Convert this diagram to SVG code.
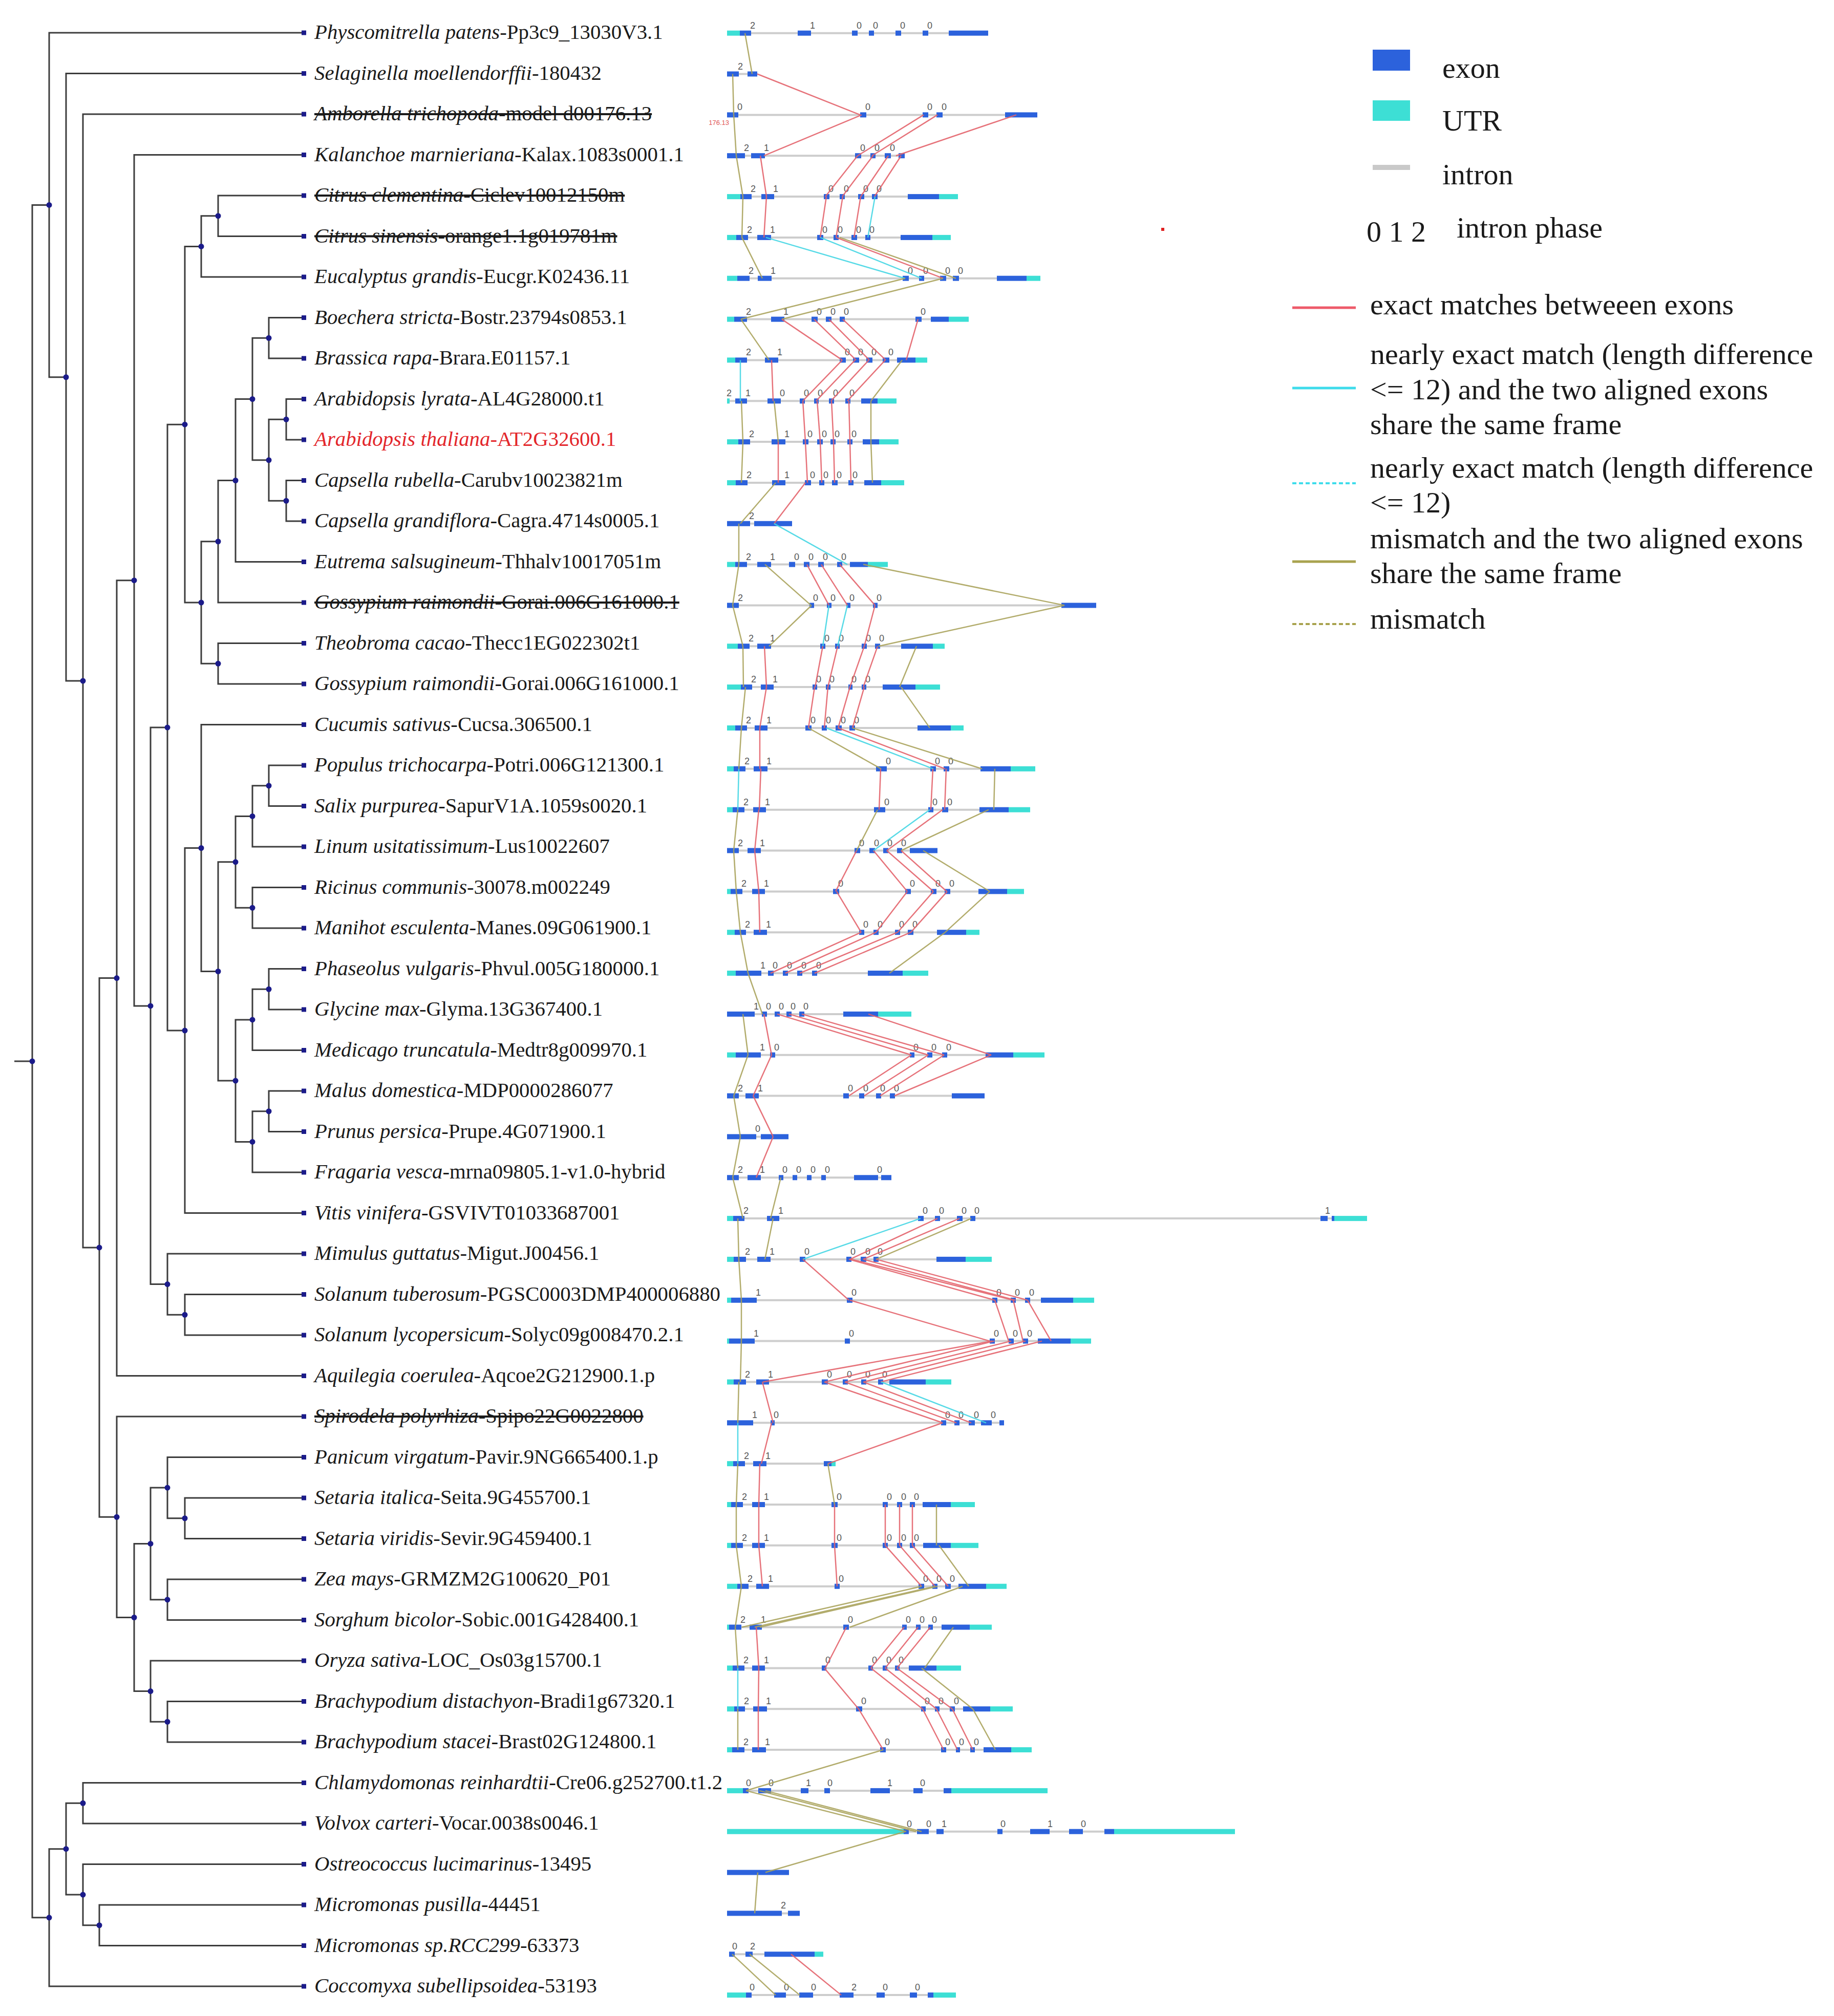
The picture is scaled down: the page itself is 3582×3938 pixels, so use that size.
<svg xmlns="http://www.w3.org/2000/svg" width="3582" height="3938" viewBox="0 0 3582 3938">
<style>
.t{font-family:"Liberation Serif","Times New Roman",serif;font-size:40.8px;fill:#1a1a1a}
.sp{font-style:italic}
.st{text-decoration:line-through}
.red{fill:#e3262b}
.br{fill:none;stroke:#3c3c3c;stroke-width:3}
.nd{fill:#1b1b8a}
.i{stroke:#cdcdcd;stroke-width:4}
.e{fill:#2c62dc}
.u{fill:#3ddfd5}
.p{font-family:"Liberation Sans",Arial,sans-serif;font-size:18px;fill:#555;text-anchor:middle}
.r{stroke:#e4636b;stroke-width:2.5}
.c{stroke:#44d6e4;stroke-width:2.5}
.o{stroke:#aaa35c;stroke-width:2.5}
.lg{font-family:"Liberation Serif","Times New Roman",serif;font-size:58px;fill:#1a1a1a}
</style>
<rect width="3582" height="3938" fill="#ffffff"/>

<g id="tree-edges">
<path class="br" d="M28 2073.1H63"/>
<path class="br" d="M96 400.4H63V3745.8H96"/>
<path class="br" d="M594 64H96V736.75H129"/>
<path class="br" d="M594 143.5H129V1330H162"/>
<path class="br" d="M594 223H162V2436.9H194"/>
<path class="br" d="M228 1910.6H194V2963.25H228"/>
<path class="br" d="M262 1133.7H228V2687.5H594"/>
<path class="br" d="M594 302.5H262V1964.9H294"/>
<path class="br" d="M327 1421.1H294V2508.6H327"/>
<path class="br" d="M361 829.2H327V2013H361"/>
<path class="br" d="M393 481.4H361V1177H393"/>
<path class="br" d="M426 421.75H393V541H594"/>
<path class="br" d="M594 382H426V461.5H594"/>
<path class="br" d="M426 1057.75H393V1296.25H426"/>
<path class="br" d="M460 938.5H426V1177H594"/>
<path class="br" d="M493 779.5H460V1097.5H594"/>
<path class="br" d="M525 660.25H493V898.75H525"/>
<path class="br" d="M594 620.5H525V700H594"/>
<path class="br" d="M559 819.25H525V978.25H559"/>
<path class="br" d="M594 779.5H559V859H594"/>
<path class="br" d="M594 938.5H559V1018H594"/>
<path class="br" d="M594 1256.5H426V1336H594"/>
<path class="br" d="M393 1656.5H361V2369.5H594"/>
<path class="br" d="M594 1415.5H393V1897.5H426"/>
<path class="br" d="M460 1683.8H426V2111.1H460"/>
<path class="br" d="M493 1594.4H460V1773.25H493"/>
<path class="br" d="M525 1534.75H493V1654H594"/>
<path class="br" d="M594 1495H525V1574.5H594"/>
<path class="br" d="M594 1733.5H493V1813H594"/>
<path class="br" d="M493 1991.9H460V2230.4H493"/>
<path class="br" d="M525 1932.25H493V2051.5H594"/>
<path class="br" d="M594 1892.5H525V1972H594"/>
<path class="br" d="M525 2170.75H493V2290H594"/>
<path class="br" d="M594 2131H525V2210.5H594"/>
<path class="br" d="M594 2449H327V2568.25H361"/>
<path class="br" d="M594 2528.5H361V2608H594"/>
<path class="br" d="M594 2767H228V3159.5H262"/>
<path class="br" d="M294 3015.4H262V3303.6H294"/>
<path class="br" d="M327 2906.1H294V3124.75H327"/>
<path class="br" d="M594 2846.5H327V2965.75H361"/>
<path class="br" d="M594 2926H361V3005.5H594"/>
<path class="br" d="M594 3085H327V3164.5H594"/>
<path class="br" d="M594 3244H294V3363.25H327"/>
<path class="br" d="M594 3323.5H327V3403H594"/>
<path class="br" d="M129 3611.7H96V3880H594"/>
<path class="br" d="M162 3522.25H129V3701.1H162"/>
<path class="br" d="M594 3482.5H162V3562H594"/>
<path class="br" d="M594 3641.5H162V3760.75H194"/>
<path class="br" d="M594 3721H194V3800.5H594"/>
</g>

<g id="tree-nodes" class="nd">
<circle cx="63" cy="2073.1" r="5.5"/><circle cx="96" cy="400.4" r="5.5"/><circle cx="129" cy="736.75" r="5.5"/><circle cx="162" cy="1330" r="5.5"/><circle cx="194" cy="2436.9" r="5.5"/><circle cx="228" cy="1910.6" r="5.5"/><circle cx="262" cy="1133.7" r="5.5"/><circle cx="294" cy="1964.9" r="5.5"/><circle cx="327" cy="1421.1" r="5.5"/><circle cx="361" cy="829.2" r="5.5"/><circle cx="393" cy="481.4" r="5.5"/><circle cx="426" cy="421.75" r="5.5"/><circle cx="393" cy="1177" r="5.5"/><circle cx="426" cy="1057.75" r="5.5"/><circle cx="460" cy="938.5" r="5.5"/><circle cx="493" cy="779.5" r="5.5"/><circle cx="525" cy="660.25" r="5.5"/><circle cx="525" cy="898.75" r="5.5"/><circle cx="559" cy="819.25" r="5.5"/><circle cx="559" cy="978.25" r="5.5"/><circle cx="426" cy="1296.25" r="5.5"/><circle cx="361" cy="2013" r="5.5"/><circle cx="393" cy="1656.5" r="5.5"/><circle cx="426" cy="1897.5" r="5.5"/><circle cx="460" cy="1683.8" r="5.5"/><circle cx="493" cy="1594.4" r="5.5"/><circle cx="525" cy="1534.75" r="5.5"/><circle cx="493" cy="1773.25" r="5.5"/><circle cx="460" cy="2111.1" r="5.5"/><circle cx="493" cy="1991.9" r="5.5"/><circle cx="525" cy="1932.25" r="5.5"/><circle cx="493" cy="2230.4" r="5.5"/><circle cx="525" cy="2170.75" r="5.5"/><circle cx="327" cy="2508.6" r="5.5"/><circle cx="361" cy="2568.25" r="5.5"/><circle cx="228" cy="2963.25" r="5.5"/><circle cx="262" cy="3159.5" r="5.5"/><circle cx="294" cy="3015.4" r="5.5"/><circle cx="327" cy="2906.1" r="5.5"/><circle cx="361" cy="2965.75" r="5.5"/><circle cx="327" cy="3124.75" r="5.5"/><circle cx="294" cy="3303.6" r="5.5"/><circle cx="327" cy="3363.25" r="5.5"/><circle cx="96" cy="3745.8" r="5.5"/><circle cx="129" cy="3611.7" r="5.5"/><circle cx="162" cy="3522.25" r="5.5"/><circle cx="162" cy="3701.1" r="5.5"/><circle cx="194" cy="3760.75" r="5.5"/>
</g>

<g id="leaves">
<g id="leaf01"><rect class="nd" x="589" y="59.5" width="9" height="9"/><text class="t" x="614" y="76"><tspan class="sp">Physcomitrella patens</tspan>-Pp3c9_13030V3.1</text></g>
<g id="leaf02"><rect class="nd" x="589" y="139" width="9" height="9"/><text class="t" x="614" y="155.5"><tspan class="sp">Selaginella moellendorffii</tspan>-180432</text></g>
<g id="leaf03"><rect class="nd" x="589" y="218.5" width="9" height="9"/><text class="t st" x="614" y="235"><tspan class="sp">Amborella trichopoda</tspan>-model d00176.13</text></g>
<g id="leaf04"><rect class="nd" x="589" y="298" width="9" height="9"/><text class="t" x="614" y="314.5"><tspan class="sp">Kalanchoe marnieriana</tspan>-Kalax.1083s0001.1</text></g>
<g id="leaf05"><rect class="nd" x="589" y="377.5" width="9" height="9"/><text class="t st" x="614" y="394"><tspan class="sp">Citrus clementina</tspan>-Ciclev10012150m</text></g>
<g id="leaf06"><rect class="nd" x="589" y="457" width="9" height="9"/><text class="t st" x="614" y="473.5"><tspan class="sp">Citrus sinensis</tspan>-orange1.1g019781m</text></g>
<g id="leaf07"><rect class="nd" x="589" y="536.5" width="9" height="9"/><text class="t" x="614" y="553"><tspan class="sp">Eucalyptus grandis</tspan>-Eucgr.K02436.11</text></g>
<g id="leaf08"><rect class="nd" x="589" y="616" width="9" height="9"/><text class="t" x="614" y="632.5"><tspan class="sp">Boechera stricta</tspan>-Bostr.23794s0853.1</text></g>
<g id="leaf09"><rect class="nd" x="589" y="695.5" width="9" height="9"/><text class="t" x="614" y="712"><tspan class="sp">Brassica rapa</tspan>-Brara.E01157.1</text></g>
<g id="leaf10"><rect class="nd" x="589" y="775" width="9" height="9"/><text class="t" x="614" y="791.5"><tspan class="sp">Arabidopsis lyrata</tspan>-AL4G28000.t1</text></g>
<g id="leaf11"><rect class="nd" x="589" y="854.5" width="9" height="9"/><text class="t red" x="614" y="871"><tspan class="sp">Arabidopsis thaliana</tspan>-AT2G32600.1</text></g>
<g id="leaf12"><rect class="nd" x="589" y="934" width="9" height="9"/><text class="t" x="614" y="950.5"><tspan class="sp">Capsella rubella</tspan>-Carubv10023821m</text></g>
<g id="leaf13"><rect class="nd" x="589" y="1013.5" width="9" height="9"/><text class="t" x="614" y="1030"><tspan class="sp">Capsella grandiflora</tspan>-Cagra.4714s0005.1</text></g>
<g id="leaf14"><rect class="nd" x="589" y="1093" width="9" height="9"/><text class="t" x="614" y="1109.5"><tspan class="sp">Eutrema salsugineum</tspan>-Thhalv10017051m</text></g>
<g id="leaf15"><rect class="nd" x="589" y="1172.5" width="9" height="9"/><text class="t st" x="614" y="1189"><tspan class="sp">Gossypium raimondii</tspan>-Gorai.006G161000.1</text></g>
<g id="leaf16"><rect class="nd" x="589" y="1252" width="9" height="9"/><text class="t" x="614" y="1268.5"><tspan class="sp">Theobroma cacao</tspan>-Thecc1EG022302t1</text></g>
<g id="leaf17"><rect class="nd" x="589" y="1331.5" width="9" height="9"/><text class="t" x="614" y="1348"><tspan class="sp">Gossypium raimondii</tspan>-Gorai.006G161000.1</text></g>
<g id="leaf18"><rect class="nd" x="589" y="1411" width="9" height="9"/><text class="t" x="614" y="1427.5"><tspan class="sp">Cucumis sativus</tspan>-Cucsa.306500.1</text></g>
<g id="leaf19"><rect class="nd" x="589" y="1490.5" width="9" height="9"/><text class="t" x="614" y="1507"><tspan class="sp">Populus trichocarpa</tspan>-Potri.006G121300.1</text></g>
<g id="leaf20"><rect class="nd" x="589" y="1570" width="9" height="9"/><text class="t" x="614" y="1586.5"><tspan class="sp">Salix purpurea</tspan>-SapurV1A.1059s0020.1</text></g>
<g id="leaf21"><rect class="nd" x="589" y="1649.5" width="9" height="9"/><text class="t" x="614" y="1666"><tspan class="sp">Linum usitatissimum</tspan>-Lus10022607</text></g>
<g id="leaf22"><rect class="nd" x="589" y="1729" width="9" height="9"/><text class="t" x="614" y="1745.5"><tspan class="sp">Ricinus communis</tspan>-30078.m002249</text></g>
<g id="leaf23"><rect class="nd" x="589" y="1808.5" width="9" height="9"/><text class="t" x="614" y="1825"><tspan class="sp">Manihot esculenta</tspan>-Manes.09G061900.1</text></g>
<g id="leaf24"><rect class="nd" x="589" y="1888" width="9" height="9"/><text class="t" x="614" y="1904.5"><tspan class="sp">Phaseolus vulgaris</tspan>-Phvul.005G180000.1</text></g>
<g id="leaf25"><rect class="nd" x="589" y="1967.5" width="9" height="9"/><text class="t" x="614" y="1984"><tspan class="sp">Glycine max</tspan>-Glyma.13G367400.1</text></g>
<g id="leaf26"><rect class="nd" x="589" y="2047" width="9" height="9"/><text class="t" x="614" y="2063.5"><tspan class="sp">Medicago truncatula</tspan>-Medtr8g009970.1</text></g>
<g id="leaf27"><rect class="nd" x="589" y="2126.5" width="9" height="9"/><text class="t" x="614" y="2143"><tspan class="sp">Malus domestica</tspan>-MDP0000286077</text></g>
<g id="leaf28"><rect class="nd" x="589" y="2206" width="9" height="9"/><text class="t" x="614" y="2222.5"><tspan class="sp">Prunus persica</tspan>-Prupe.4G071900.1</text></g>
<g id="leaf29"><rect class="nd" x="589" y="2285.5" width="9" height="9"/><text class="t" x="614" y="2302"><tspan class="sp">Fragaria vesca</tspan>-mrna09805.1-v1.0-hybrid</text></g>
<g id="leaf30"><rect class="nd" x="589" y="2365" width="9" height="9"/><text class="t" x="614" y="2381.5"><tspan class="sp">Vitis vinifera</tspan>-GSVIVT01033687001</text></g>
<g id="leaf31"><rect class="nd" x="589" y="2444.5" width="9" height="9"/><text class="t" x="614" y="2461"><tspan class="sp">Mimulus guttatus</tspan>-Migut.J00456.1</text></g>
<g id="leaf32"><rect class="nd" x="589" y="2524" width="9" height="9"/><text class="t" x="614" y="2540.5"><tspan class="sp">Solanum tuberosum</tspan>-PGSC0003DMP400006880</text></g>
<g id="leaf33"><rect class="nd" x="589" y="2603.5" width="9" height="9"/><text class="t" x="614" y="2620"><tspan class="sp">Solanum lycopersicum</tspan>-Solyc09g008470.2.1</text></g>
<g id="leaf34"><rect class="nd" x="589" y="2683" width="9" height="9"/><text class="t" x="614" y="2699.5"><tspan class="sp">Aquilegia coerulea</tspan>-Aqcoe2G212900.1.p</text></g>
<g id="leaf35"><rect class="nd" x="589" y="2762.5" width="9" height="9"/><text class="t st" x="614" y="2779"><tspan class="sp">Spirodela polyrhiza</tspan>-Spipo22G0022800</text></g>
<g id="leaf36"><rect class="nd" x="589" y="2842" width="9" height="9"/><text class="t" x="614" y="2858.5"><tspan class="sp">Panicum virgatum</tspan>-Pavir.9NG665400.1.p</text></g>
<g id="leaf37"><rect class="nd" x="589" y="2921.5" width="9" height="9"/><text class="t" x="614" y="2938"><tspan class="sp">Setaria italica</tspan>-Seita.9G455700.1</text></g>
<g id="leaf38"><rect class="nd" x="589" y="3001" width="9" height="9"/><text class="t" x="614" y="3017.5"><tspan class="sp">Setaria viridis</tspan>-Sevir.9G459400.1</text></g>
<g id="leaf39"><rect class="nd" x="589" y="3080.5" width="9" height="9"/><text class="t" x="614" y="3097"><tspan class="sp">Zea mays</tspan>-GRMZM2G100620_P01</text></g>
<g id="leaf40"><rect class="nd" x="589" y="3160" width="9" height="9"/><text class="t" x="614" y="3176.5"><tspan class="sp">Sorghum bicolor</tspan>-Sobic.001G428400.1</text></g>
<g id="leaf41"><rect class="nd" x="589" y="3239.5" width="9" height="9"/><text class="t" x="614" y="3256"><tspan class="sp">Oryza sativa</tspan>-LOC_Os03g15700.1</text></g>
<g id="leaf42"><rect class="nd" x="589" y="3319" width="9" height="9"/><text class="t" x="614" y="3335.5"><tspan class="sp">Brachypodium distachyon</tspan>-Bradi1g67320.1</text></g>
<g id="leaf43"><rect class="nd" x="589" y="3398.5" width="9" height="9"/><text class="t" x="614" y="3415"><tspan class="sp">Brachypodium stacei</tspan>-Brast02G124800.1</text></g>
<g id="leaf44"><rect class="nd" x="589" y="3478" width="9" height="9"/><text class="t" x="614" y="3494.5"><tspan class="sp">Chlamydomonas reinhardtii</tspan>-Cre06.g252700.t1.2</text></g>
<g id="leaf45"><rect class="nd" x="589" y="3557.5" width="9" height="9"/><text class="t" x="614" y="3574"><tspan class="sp">Volvox carteri</tspan>-Vocar.0038s0046.1</text></g>
<g id="leaf46"><rect class="nd" x="589" y="3637" width="9" height="9"/><text class="t" x="614" y="3653.5"><tspan class="sp">Ostreococcus lucimarinus</tspan>-13495</text></g>
<g id="leaf47"><rect class="nd" x="589" y="3716.5" width="9" height="9"/><text class="t" x="614" y="3733"><tspan class="sp">Micromonas pusilla</tspan>-44451</text></g>
<g id="leaf48"><rect class="nd" x="589" y="3796" width="9" height="9"/><text class="t" x="614" y="3812.5"><tspan class="sp">Micromonas sp.RCC299</tspan>-63373</text></g>
<g id="leaf49"><rect class="nd" x="589" y="3875.5" width="9" height="9"/><text class="t" x="614" y="3892"><tspan class="sp">Coccomyxa subellipsoidea</tspan>-53193</text></g>
</g>

<g id="genes">
<g id="gene01" transform="translate(0,64.7)"><line class="i" x1="1420" x2="1930"/><rect class="u" x="1420" y="-5" width="25" height="10"/><rect class="e" x="1445" y="-5" width="22" height="10"/><rect class="e" x="1558" y="-5" width="26" height="10"/><rect class="e" x="1664" y="-5" width="11" height="10"/><rect class="e" x="1697" y="-5" width="10" height="10"/><rect class="e" x="1749" y="-5" width="11" height="10"/><rect class="e" x="1802" y="-5" width="11" height="10"/><rect class="e" x="1853" y="-5" width="77" height="10"/><text class="p" y="-9"><tspan x="1470">2</tspan><tspan x="1587">1</tspan><tspan x="1678">0</tspan><tspan x="1710">0</tspan><tspan x="1763">0</tspan><tspan x="1816">0</tspan></text></g>
<g id="gene02" transform="translate(0,144.5)"><line class="i" x1="1420" x2="1479"/><rect class="e" x="1420" y="-5" width="23" height="10"/><rect class="e" x="1460" y="-5" width="19" height="10"/><text class="p" y="-9"><tspan x="1446">2</tspan></text></g>
<g id="gene03" transform="translate(0,224.4)"><line class="i" x1="1420" x2="2026"/><rect class="e" x="1420" y="-5" width="22" height="10"/><rect class="e" x="1680" y="-5" width="12" height="10"/><rect class="e" x="1802" y="-5" width="11" height="10"/><rect class="e" x="1829" y="-5" width="12" height="10"/><rect class="e" x="1963" y="-5" width="63" height="10"/><text class="p" y="-9"><tspan x="1445">0</tspan><tspan x="1695">0</tspan><tspan x="1816">0</tspan><tspan x="1844">0</tspan></text><text x="1424" y="20" font-family="Liberation Sans,Arial,sans-serif" font-size="13" fill="#e05555" text-anchor="end">176.13</text></g>
<g id="gene04" transform="translate(0,304.2)"><line class="i" x1="1420" x2="1767"/><rect class="e" x="1420" y="-5" width="35" height="10"/><rect class="e" x="1467" y="-5" width="27" height="10"/><rect class="e" x="1670" y="-5" width="12" height="10"/><rect class="e" x="1700" y="-5" width="10" height="10"/><rect class="e" x="1728" y="-5" width="12" height="10"/><rect class="e" x="1755" y="-5" width="12" height="10"/><text class="p" y="-9"><tspan x="1458">2</tspan><tspan x="1497">1</tspan><tspan x="1685">0</tspan><tspan x="1713">0</tspan><tspan x="1743">0</tspan></text></g>
<g id="gene05" transform="translate(0,384.1)"><line class="i" x1="1420" x2="1871"/><rect class="u" x="1420" y="-5" width="26" height="10"/><rect class="e" x="1446" y="-5" width="22" height="10"/><rect class="e" x="1487" y="-5" width="25" height="10"/><rect class="e" x="1609" y="-5" width="11" height="10"/><rect class="e" x="1640" y="-5" width="10" height="10"/><rect class="e" x="1676" y="-5" width="12" height="10"/><rect class="e" x="1703" y="-5" width="11" height="10"/><rect class="e" x="1773" y="-5" width="61" height="10"/><rect class="u" x="1834" y="-5" width="37" height="10"/><text class="p" y="-9"><tspan x="1471">2</tspan><tspan x="1515">1</tspan><tspan x="1623">0</tspan><tspan x="1653">0</tspan><tspan x="1691">0</tspan><tspan x="1717">0</tspan></text></g>
<g id="gene06" transform="translate(0,463.9)"><line class="i" x1="1420" x2="1857"/><rect class="u" x="1420" y="-5" width="18" height="10"/><rect class="e" x="1438" y="-5" width="23" height="10"/><rect class="e" x="1479" y="-5" width="27" height="10"/><rect class="e" x="1596" y="-5" width="12" height="10"/><rect class="e" x="1628" y="-5" width="10" height="10"/><rect class="e" x="1663" y="-5" width="11" height="10"/><rect class="e" x="1690" y="-5" width="10" height="10"/><rect class="e" x="1759" y="-5" width="62" height="10"/><rect class="u" x="1821" y="-5" width="36" height="10"/><text class="p" y="-9"><tspan x="1464">2</tspan><tspan x="1509">1</tspan><tspan x="1611">0</tspan><tspan x="1641">0</tspan><tspan x="1677">0</tspan><tspan x="1703">0</tspan></text></g>
<g id="gene07" transform="translate(0,543.7)"><line class="i" x1="1420" x2="2032"/><rect class="u" x="1420" y="-5" width="20" height="10"/><rect class="e" x="1440" y="-5" width="24" height="10"/><rect class="e" x="1480" y="-5" width="27" height="10"/><rect class="e" x="1763" y="-5" width="12" height="10"/><rect class="e" x="1795" y="-5" width="10" height="10"/><rect class="e" x="1836" y="-5" width="12" height="10"/><rect class="e" x="1861" y="-5" width="12" height="10"/><rect class="e" x="1947" y="-5" width="58" height="10"/><rect class="u" x="2005" y="-5" width="27" height="10"/><text class="p" y="-9"><tspan x="1467">2</tspan><tspan x="1510">1</tspan><tspan x="1778">0</tspan><tspan x="1808">0</tspan><tspan x="1851">0</tspan><tspan x="1876">0</tspan></text></g>
<g id="gene08" transform="translate(0,623.6)"><line class="i" x1="1420" x2="1892"/><rect class="u" x="1420" y="-5" width="14" height="10"/><rect class="e" x="1434" y="-5" width="25" height="10"/><rect class="e" x="1506" y="-5" width="26" height="10"/><rect class="e" x="1585" y="-5" width="12" height="10"/><rect class="e" x="1613" y="-5" width="11" height="10"/><rect class="e" x="1640" y="-5" width="10" height="10"/><rect class="e" x="1788" y="-5" width="12" height="10"/><rect class="e" x="1818" y="-5" width="35" height="10"/><rect class="u" x="1853" y="-5" width="39" height="10"/><text class="p" y="-9"><tspan x="1462">2</tspan><tspan x="1535">1</tspan><tspan x="1600">0</tspan><tspan x="1627">0</tspan><tspan x="1653">0</tspan><tspan x="1803">0</tspan></text></g>
<g id="gene09" transform="translate(0,703.4)"><line class="i" x1="1420" x2="1811"/><rect class="u" x="1420" y="-5" width="16" height="10"/><rect class="e" x="1436" y="-5" width="23" height="10"/><rect class="e" x="1494" y="-5" width="26" height="10"/><rect class="e" x="1640" y="-5" width="12" height="10"/><rect class="e" x="1666" y="-5" width="12" height="10"/><rect class="e" x="1692" y="-5" width="12" height="10"/><rect class="e" x="1724" y="-5" width="13" height="10"/><rect class="e" x="1752" y="-5" width="36" height="10"/><rect class="u" x="1788" y="-5" width="23" height="10"/><text class="p" y="-9"><tspan x="1462">2</tspan><tspan x="1523">1</tspan><tspan x="1655">0</tspan><tspan x="1681">0</tspan><tspan x="1707">0</tspan><tspan x="1740">0</tspan></text></g>
<g id="gene10" transform="translate(0,783.3)"><line class="i" x1="1420" x2="1751"/><rect class="u" x="1420" y="-5" width="5" height="10"/><rect class="e" x="1436" y="-5" width="23" height="10"/><rect class="e" x="1499" y="-5" width="26" height="10"/><rect class="e" x="1562" y="-5" width="10" height="10"/><rect class="e" x="1590" y="-5" width="9" height="10"/><rect class="e" x="1619" y="-5" width="10" height="10"/><rect class="e" x="1651" y="-5" width="10" height="10"/><rect class="e" x="1682" y="-5" width="32" height="10"/><rect class="u" x="1714" y="-5" width="37" height="10"/><text class="p" y="-9"><tspan x="1424">2</tspan><tspan x="1461">1</tspan><tspan x="1528">0</tspan><tspan x="1575">0</tspan><tspan x="1602">0</tspan><tspan x="1632">0</tspan><tspan x="1664">0</tspan></text></g>
<g id="gene11" transform="translate(0,863.1)"><line class="i" x1="1420" x2="1755"/><rect class="u" x="1420" y="-5" width="22" height="10"/><rect class="e" x="1442" y="-5" width="23" height="10"/><rect class="e" x="1507" y="-5" width="27" height="10"/><rect class="e" x="1568" y="-5" width="11" height="10"/><rect class="e" x="1596" y="-5" width="11" height="10"/><rect class="e" x="1622" y="-5" width="10" height="10"/><rect class="e" x="1655" y="-5" width="10" height="10"/><rect class="e" x="1685" y="-5" width="32" height="10"/><rect class="u" x="1717" y="-5" width="38" height="10"/><text class="p" y="-9"><tspan x="1468">2</tspan><tspan x="1537">1</tspan><tspan x="1582">0</tspan><tspan x="1610">0</tspan><tspan x="1635">0</tspan><tspan x="1668">0</tspan></text></g>
<g id="gene12" transform="translate(0,943)"><line class="i" x1="1420" x2="1766"/><rect class="u" x="1420" y="-5" width="17" height="10"/><rect class="e" x="1437" y="-5" width="23" height="10"/><rect class="e" x="1508" y="-5" width="26" height="10"/><rect class="e" x="1572" y="-5" width="12" height="10"/><rect class="e" x="1600" y="-5" width="10" height="10"/><rect class="e" x="1625" y="-5" width="11" height="10"/><rect class="e" x="1657" y="-5" width="10" height="10"/><rect class="e" x="1688" y="-5" width="33" height="10"/><rect class="u" x="1721" y="-5" width="45" height="10"/><text class="p" y="-9"><tspan x="1463">2</tspan><tspan x="1537">1</tspan><tspan x="1587">0</tspan><tspan x="1613">0</tspan><tspan x="1639">0</tspan><tspan x="1670">0</tspan></text></g>
<g id="gene13" transform="translate(0,1022.8)"><line class="i" x1="1420" x2="1547"/><rect class="e" x="1420" y="-5" width="45" height="10"/><rect class="e" x="1473" y="-5" width="74" height="10"/><text class="p" y="-9"><tspan x="1468">2</tspan></text></g>
<g id="gene14" transform="translate(0,1102.6)"><line class="i" x1="1420" x2="1734"/><rect class="u" x="1420" y="-5" width="16" height="10"/><rect class="e" x="1436" y="-5" width="23" height="10"/><rect class="e" x="1479" y="-5" width="27" height="10"/><rect class="e" x="1541" y="-5" width="12" height="10"/><rect class="e" x="1570" y="-5" width="11" height="10"/><rect class="e" x="1598" y="-5" width="11" height="10"/><rect class="e" x="1635" y="-5" width="10" height="10"/><rect class="e" x="1660" y="-5" width="35" height="10"/><rect class="u" x="1695" y="-5" width="39" height="10"/><text class="p" y="-9"><tspan x="1462">2</tspan><tspan x="1509">1</tspan><tspan x="1556">0</tspan><tspan x="1584">0</tspan><tspan x="1612">0</tspan><tspan x="1648">0</tspan></text></g>
<g id="gene15" transform="translate(0,1182.5)"><line class="i" x1="1420" x2="2141"/><rect class="e" x="1420" y="-5" width="23" height="10"/><rect class="e" x="1581" y="-5" width="9" height="10"/><rect class="e" x="1615" y="-5" width="9" height="10"/><rect class="e" x="1653" y="-5" width="8" height="10"/><rect class="e" x="1705" y="-5" width="9" height="10"/><rect class="e" x="2073" y="-5" width="68" height="10"/><text class="p" y="-9"><tspan x="1446">2</tspan><tspan x="1593">0</tspan><tspan x="1627">0</tspan><tspan x="1664">0</tspan><tspan x="1717">0</tspan></text></g>
<g id="gene16" transform="translate(0,1262.3)"><line class="i" x1="1420" x2="1845"/><rect class="u" x="1420" y="-5" width="21" height="10"/><rect class="e" x="1441" y="-5" width="23" height="10"/><rect class="e" x="1479" y="-5" width="27" height="10"/><rect class="e" x="1602" y="-5" width="10" height="10"/><rect class="e" x="1631" y="-5" width="9" height="10"/><rect class="e" x="1683" y="-5" width="10" height="10"/><rect class="e" x="1709" y="-5" width="10" height="10"/><rect class="e" x="1760" y="-5" width="62" height="10"/><rect class="u" x="1822" y="-5" width="23" height="10"/><text class="p" y="-9"><tspan x="1467">2</tspan><tspan x="1509">1</tspan><tspan x="1615">0</tspan><tspan x="1643">0</tspan><tspan x="1696">0</tspan><tspan x="1722">0</tspan></text></g>
<g id="gene17" transform="translate(0,1342.1)"><line class="i" x1="1420" x2="1836"/><rect class="u" x="1420" y="-5" width="27" height="10"/><rect class="e" x="1447" y="-5" width="22" height="10"/><rect class="e" x="1486" y="-5" width="25" height="10"/><rect class="e" x="1587" y="-5" width="9" height="10"/><rect class="e" x="1613" y="-5" width="9" height="10"/><rect class="e" x="1657" y="-5" width="8" height="10"/><rect class="e" x="1683" y="-5" width="9" height="10"/><rect class="e" x="1724" y="-5" width="64" height="10"/><rect class="u" x="1788" y="-5" width="48" height="10"/><text class="p" y="-9"><tspan x="1472">2</tspan><tspan x="1514">1</tspan><tspan x="1599">0</tspan><tspan x="1625">0</tspan><tspan x="1668">0</tspan><tspan x="1695">0</tspan></text></g>
<g id="gene18" transform="translate(0,1422)"><line class="i" x1="1420" x2="1882"/><rect class="u" x="1420" y="-5" width="16" height="10"/><rect class="e" x="1436" y="-5" width="23" height="10"/><rect class="e" x="1474" y="-5" width="25" height="10"/><rect class="e" x="1573" y="-5" width="12" height="10"/><rect class="e" x="1605" y="-5" width="10" height="10"/><rect class="e" x="1632" y="-5" width="12" height="10"/><rect class="e" x="1659" y="-5" width="11" height="10"/><rect class="e" x="1792" y="-5" width="65" height="10"/><rect class="u" x="1857" y="-5" width="25" height="10"/><text class="p" y="-9"><tspan x="1462">2</tspan><tspan x="1502">1</tspan><tspan x="1588">0</tspan><tspan x="1618">0</tspan><tspan x="1647">0</tspan><tspan x="1673">0</tspan></text></g>
<g id="gene19" transform="translate(0,1501.8)"><line class="i" x1="1420" x2="2022"/><rect class="u" x="1420" y="-5" width="13" height="10"/><rect class="e" x="1433" y="-5" width="23" height="10"/><rect class="e" x="1472" y="-5" width="27" height="10"/><rect class="e" x="1711" y="-5" width="21" height="10"/><rect class="e" x="1817" y="-5" width="11" height="10"/><rect class="e" x="1843" y="-5" width="11" height="10"/><rect class="e" x="1915" y="-5" width="59" height="10"/><rect class="u" x="1974" y="-5" width="48" height="10"/><text class="p" y="-9"><tspan x="1459">2</tspan><tspan x="1502">1</tspan><tspan x="1735">0</tspan><tspan x="1831">0</tspan><tspan x="1857">0</tspan></text></g>
<g id="gene20" transform="translate(0,1581.7)"><line class="i" x1="1420" x2="2012"/><rect class="u" x="1420" y="-5" width="11" height="10"/><rect class="e" x="1431" y="-5" width="23" height="10"/><rect class="e" x="1471" y="-5" width="25" height="10"/><rect class="e" x="1707" y="-5" width="22" height="10"/><rect class="e" x="1813" y="-5" width="10" height="10"/><rect class="e" x="1840" y="-5" width="12" height="10"/><rect class="e" x="1913" y="-5" width="57" height="10"/><rect class="u" x="1970" y="-5" width="42" height="10"/><text class="p" y="-9"><tspan x="1457">2</tspan><tspan x="1499">1</tspan><tspan x="1732">0</tspan><tspan x="1826">0</tspan><tspan x="1855">0</tspan></text></g>
<g id="gene21" transform="translate(0,1661.5)"><line class="i" x1="1420" x2="1831"/><rect class="e" x="1420" y="-5" width="23" height="10"/><rect class="e" x="1460" y="-5" width="26" height="10"/><rect class="e" x="1669" y="-5" width="11" height="10"/><rect class="e" x="1698" y="-5" width="11" height="10"/><rect class="e" x="1725" y="-5" width="10" height="10"/><rect class="e" x="1752" y="-5" width="10" height="10"/><rect class="e" x="1777" y="-5" width="54" height="10"/><text class="p" y="-9"><tspan x="1446">2</tspan><tspan x="1489">1</tspan><tspan x="1683">0</tspan><tspan x="1712">0</tspan><tspan x="1738">0</tspan><tspan x="1765">0</tspan></text></g>
<g id="gene22" transform="translate(0,1741.4)"><line class="i" x1="1420" x2="2000"/><rect class="u" x="1420" y="-5" width="7" height="10"/><rect class="e" x="1427" y="-5" width="23" height="10"/><rect class="e" x="1469" y="-5" width="25" height="10"/><rect class="e" x="1627" y="-5" width="12" height="10"/><rect class="e" x="1768" y="-5" width="11" height="10"/><rect class="e" x="1818" y="-5" width="11" height="10"/><rect class="e" x="1845" y="-5" width="11" height="10"/><rect class="e" x="1911" y="-5" width="56" height="10"/><rect class="u" x="1967" y="-5" width="33" height="10"/><text class="p" y="-9"><tspan x="1453">2</tspan><tspan x="1497">1</tspan><tspan x="1642">0</tspan><tspan x="1782">0</tspan><tspan x="1832">0</tspan><tspan x="1859">0</tspan></text></g>
<g id="gene23" transform="translate(0,1821.2)"><line class="i" x1="1420" x2="1913"/><rect class="u" x="1420" y="-5" width="15" height="10"/><rect class="e" x="1435" y="-5" width="22" height="10"/><rect class="e" x="1472" y="-5" width="26" height="10"/><rect class="e" x="1678" y="-5" width="10" height="10"/><rect class="e" x="1706" y="-5" width="10" height="10"/><rect class="e" x="1748" y="-5" width="10" height="10"/><rect class="e" x="1773" y="-5" width="11" height="10"/><rect class="e" x="1830" y="-5" width="57" height="10"/><rect class="u" x="1887" y="-5" width="26" height="10"/><text class="p" y="-9"><tspan x="1460">2</tspan><tspan x="1501">1</tspan><tspan x="1691">0</tspan><tspan x="1719">0</tspan><tspan x="1761">0</tspan><tspan x="1787">0</tspan></text></g>
<g id="gene24" transform="translate(0,1901)"><line class="i" x1="1420" x2="1813"/><rect class="u" x="1420" y="-5" width="17" height="10"/><rect class="e" x="1437" y="-5" width="50" height="10"/><rect class="e" x="1500" y="-5" width="11" height="10"/><rect class="e" x="1529" y="-5" width="10" height="10"/><rect class="e" x="1557" y="-5" width="10" height="10"/><rect class="e" x="1586" y="-5" width="10" height="10"/><rect class="e" x="1695" y="-5" width="68" height="10"/><rect class="u" x="1763" y="-5" width="50" height="10"/><text class="p" y="-9"><tspan x="1490">1</tspan><tspan x="1514">0</tspan><tspan x="1542">0</tspan><tspan x="1570">0</tspan><tspan x="1599">0</tspan></text></g>
<g id="gene25" transform="translate(0,1980.9)"><line class="i" x1="1420" x2="1780"/><rect class="e" x="1420" y="-5" width="54" height="10"/><rect class="e" x="1488" y="-5" width="10" height="10"/><rect class="e" x="1513" y="-5" width="10" height="10"/><rect class="e" x="1536" y="-5" width="10" height="10"/><rect class="e" x="1561" y="-5" width="10" height="10"/><rect class="e" x="1647" y="-5" width="68" height="10"/><rect class="u" x="1715" y="-5" width="65" height="10"/><text class="p" y="-9"><tspan x="1477">1</tspan><tspan x="1501">0</tspan><tspan x="1526">0</tspan><tspan x="1549">0</tspan><tspan x="1574">0</tspan></text></g>
<g id="gene26" transform="translate(0,2060.7)"><line class="i" x1="1420" x2="2040"/><rect class="u" x="1420" y="-5" width="17" height="10"/><rect class="e" x="1437" y="-5" width="49" height="10"/><rect class="e" x="1504" y="-5" width="10" height="10"/><rect class="e" x="1777" y="-5" width="9" height="10"/><rect class="e" x="1811" y="-5" width="10" height="10"/><rect class="e" x="1840" y="-5" width="10" height="10"/><rect class="e" x="1925" y="-5" width="54" height="10"/><rect class="u" x="1979" y="-5" width="61" height="10"/><text class="p" y="-9"><tspan x="1489">1</tspan><tspan x="1517">0</tspan><tspan x="1789">0</tspan><tspan x="1824">0</tspan><tspan x="1853">0</tspan></text></g>
<g id="gene27" transform="translate(0,2140.6)"><line class="i" x1="1420" x2="1923"/><rect class="e" x="1420" y="-5" width="23" height="10"/><rect class="e" x="1456" y="-5" width="26" height="10"/><rect class="e" x="1647" y="-5" width="11" height="10"/><rect class="e" x="1678" y="-5" width="10" height="10"/><rect class="e" x="1711" y="-5" width="10" height="10"/><rect class="e" x="1738" y="-5" width="10" height="10"/><rect class="e" x="1859" y="-5" width="64" height="10"/><text class="p" y="-9"><tspan x="1446">2</tspan><tspan x="1485">1</tspan><tspan x="1661">0</tspan><tspan x="1691">0</tspan><tspan x="1724">0</tspan><tspan x="1751">0</tspan></text></g>
<g id="gene28" transform="translate(0,2220.4)"><line class="i" x1="1420" x2="1540"/><rect class="e" x="1420" y="-5" width="57" height="10"/><rect class="e" x="1486" y="-5" width="54" height="10"/><text class="p" y="-9"><tspan x="1480">0</tspan></text></g>
<g id="gene29" transform="translate(0,2300.3)"><line class="i" x1="1420" x2="1741"/><rect class="e" x="1420" y="-5" width="23" height="10"/><rect class="e" x="1460" y="-5" width="26" height="10"/><rect class="e" x="1521" y="-5" width="9" height="10"/><rect class="e" x="1548" y="-5" width="9" height="10"/><rect class="e" x="1576" y="-5" width="9" height="10"/><rect class="e" x="1604" y="-5" width="9" height="10"/><rect class="e" x="1668" y="-5" width="47" height="10"/><rect class="e" x="1721" y="-5" width="20" height="10"/><text class="p" y="-9"><tspan x="1446">2</tspan><tspan x="1489">1</tspan><tspan x="1533">0</tspan><tspan x="1560">0</tspan><tspan x="1588">0</tspan><tspan x="1616">0</tspan><tspan x="1718">0</tspan></text></g>
<g id="gene30" transform="translate(0,2380.1)"><line class="i" x1="1420" x2="2670"/><rect class="u" x="1420" y="-5" width="12" height="10"/><rect class="e" x="1432" y="-5" width="22" height="10"/><rect class="e" x="1498" y="-5" width="24" height="10"/><rect class="e" x="1793" y="-5" width="11" height="10"/><rect class="e" x="1826" y="-5" width="10" height="10"/><rect class="e" x="1869" y="-5" width="11" height="10"/><rect class="e" x="1895" y="-5" width="10" height="10"/><rect class="e" x="2579" y="-5" width="14" height="10"/><rect class="e" x="2601" y="-5" width="5" height="10"/><rect class="u" x="2606" y="-5" width="64" height="10"/><text class="p" y="-9"><tspan x="1457">2</tspan><tspan x="1525">1</tspan><tspan x="1807">0</tspan><tspan x="1839">0</tspan><tspan x="1883">0</tspan><tspan x="1908">0</tspan><tspan x="2593">1</tspan></text></g>
<g id="gene31" transform="translate(0,2459.9)"><line class="i" x1="1420" x2="1937"/><rect class="u" x="1420" y="-5" width="13" height="10"/><rect class="e" x="1433" y="-5" width="24" height="10"/><rect class="e" x="1479" y="-5" width="26" height="10"/><rect class="e" x="1562" y="-5" width="11" height="10"/><rect class="e" x="1653" y="-5" width="10" height="10"/><rect class="e" x="1681" y="-5" width="11" height="10"/><rect class="e" x="1706" y="-5" width="10" height="10"/><rect class="e" x="1829" y="-5" width="57" height="10"/><rect class="u" x="1886" y="-5" width="51" height="10"/><text class="p" y="-9"><tspan x="1460">2</tspan><tspan x="1508">1</tspan><tspan x="1576">0</tspan><tspan x="1666">0</tspan><tspan x="1695">0</tspan><tspan x="1719">0</tspan></text></g>
<g id="gene32" transform="translate(0,2539.8)"><line class="i" x1="1420" x2="2137"/><rect class="u" x="1420" y="-5" width="8" height="10"/><rect class="e" x="1428" y="-5" width="50" height="10"/><rect class="e" x="1654" y="-5" width="11" height="10"/><rect class="e" x="1938" y="-5" width="10" height="10"/><rect class="e" x="1974" y="-5" width="10" height="10"/><rect class="e" x="2002" y="-5" width="10" height="10"/><rect class="e" x="2033" y="-5" width="63" height="10"/><rect class="u" x="2096" y="-5" width="41" height="10"/><text class="p" y="-9"><tspan x="1481">1</tspan><tspan x="1668">0</tspan><tspan x="1951">0</tspan><tspan x="1987">0</tspan><tspan x="2015">0</tspan></text></g>
<g id="gene33" transform="translate(0,2619.6)"><line class="i" x1="1420" x2="2131"/><rect class="u" x="1420" y="-5" width="4" height="10"/><rect class="e" x="1424" y="-5" width="50" height="10"/><rect class="e" x="1650" y="-5" width="10" height="10"/><rect class="e" x="1933" y="-5" width="10" height="10"/><rect class="e" x="1970" y="-5" width="10" height="10"/><rect class="e" x="1998" y="-5" width="10" height="10"/><rect class="e" x="2027" y="-5" width="64" height="10"/><rect class="u" x="2091" y="-5" width="40" height="10"/><text class="p" y="-9"><tspan x="1477">1</tspan><tspan x="1663">0</tspan><tspan x="1946">0</tspan><tspan x="1983">0</tspan><tspan x="2011">0</tspan></text></g>
<g id="gene34" transform="translate(0,2699.5)"><line class="i" x1="1420" x2="1858"/><rect class="u" x="1420" y="-5" width="13" height="10"/><rect class="e" x="1433" y="-5" width="24" height="10"/><rect class="e" x="1477" y="-5" width="25" height="10"/><rect class="e" x="1605" y="-5" width="12" height="10"/><rect class="e" x="1646" y="-5" width="10" height="10"/><rect class="e" x="1682" y="-5" width="10" height="10"/><rect class="e" x="1715" y="-5" width="10" height="10"/><rect class="e" x="1737" y="-5" width="71" height="10"/><rect class="u" x="1808" y="-5" width="50" height="10"/><text class="p" y="-9"><tspan x="1460">2</tspan><tspan x="1505">1</tspan><tspan x="1620">0</tspan><tspan x="1659">0</tspan><tspan x="1695">0</tspan><tspan x="1728">0</tspan></text></g>
<g id="gene35" transform="translate(0,2779.3)"><line class="i" x1="1420" x2="1961"/><rect class="e" x="1420" y="-5" width="51" height="10"/><rect class="e" x="1505" y="-5" width="8" height="10"/><rect class="e" x="1838" y="-5" width="10" height="10"/><rect class="e" x="1864" y="-5" width="10" height="10"/><rect class="e" x="1892" y="-5" width="12" height="10"/><rect class="e" x="1916" y="-5" width="21" height="10"/><rect class="e" x="1952" y="-5" width="9" height="10"/><text class="p" y="-9"><tspan x="1474">1</tspan><tspan x="1516">0</tspan><tspan x="1851">0</tspan><tspan x="1877">0</tspan><tspan x="1907">0</tspan><tspan x="1940">0</tspan></text></g>
<g id="gene36" transform="translate(0,2859.1)"><line class="i" x1="1420" x2="1632"/><rect class="u" x="1420" y="-5" width="12" height="10"/><rect class="e" x="1432" y="-5" width="23" height="10"/><rect class="e" x="1471" y="-5" width="26" height="10"/><rect class="e" x="1609" y="-5" width="15" height="10"/><rect class="u" x="1624" y="-5" width="8" height="10"/><text class="p" y="-9"><tspan x="1458">2</tspan><tspan x="1500">1</tspan></text></g>
<g id="gene37" transform="translate(0,2939)"><line class="i" x1="1420" x2="1904"/><rect class="u" x="1420" y="-5" width="8" height="10"/><rect class="e" x="1428" y="-5" width="23" height="10"/><rect class="e" x="1469" y="-5" width="25" height="10"/><rect class="e" x="1624" y="-5" width="12" height="10"/><rect class="e" x="1724" y="-5" width="10" height="10"/><rect class="e" x="1752" y="-5" width="10" height="10"/><rect class="e" x="1777" y="-5" width="10" height="10"/><rect class="e" x="1802" y="-5" width="55" height="10"/><rect class="u" x="1857" y="-5" width="47" height="10"/><text class="p" y="-9"><tspan x="1454">2</tspan><tspan x="1497">1</tspan><tspan x="1639">0</tspan><tspan x="1737">0</tspan><tspan x="1765">0</tspan><tspan x="1790">0</tspan></text></g>
<g id="gene38" transform="translate(0,3018.8)"><line class="i" x1="1420" x2="1911"/><rect class="u" x="1420" y="-5" width="8" height="10"/><rect class="e" x="1428" y="-5" width="23" height="10"/><rect class="e" x="1469" y="-5" width="25" height="10"/><rect class="e" x="1624" y="-5" width="12" height="10"/><rect class="e" x="1724" y="-5" width="10" height="10"/><rect class="e" x="1752" y="-5" width="10" height="10"/><rect class="e" x="1777" y="-5" width="10" height="10"/><rect class="e" x="1803" y="-5" width="54" height="10"/><rect class="u" x="1857" y="-5" width="54" height="10"/><text class="p" y="-9"><tspan x="1454">2</tspan><tspan x="1497">1</tspan><tspan x="1639">0</tspan><tspan x="1737">0</tspan><tspan x="1765">0</tspan><tspan x="1790">0</tspan></text></g>
<g id="gene39" transform="translate(0,3098.7)"><line class="i" x1="1420" x2="1966"/><rect class="u" x="1420" y="-5" width="20" height="10"/><rect class="e" x="1440" y="-5" width="22" height="10"/><rect class="e" x="1477" y="-5" width="25" height="10"/><rect class="e" x="1630" y="-5" width="10" height="10"/><rect class="e" x="1794" y="-5" width="11" height="10"/><rect class="e" x="1821" y="-5" width="10" height="10"/><rect class="e" x="1846" y="-5" width="11" height="10"/><rect class="e" x="1872" y="-5" width="54" height="10"/><rect class="u" x="1926" y="-5" width="40" height="10"/><text class="p" y="-9"><tspan x="1465">2</tspan><tspan x="1505">1</tspan><tspan x="1643">0</tspan><tspan x="1808">0</tspan><tspan x="1834">0</tspan><tspan x="1860">0</tspan></text></g>
<g id="gene40" transform="translate(0,3178.5)"><line class="i" x1="1420" x2="1937"/><rect class="u" x="1420" y="-5" width="4" height="10"/><rect class="e" x="1424" y="-5" width="24" height="10"/><rect class="e" x="1464" y="-5" width="24" height="10"/><rect class="e" x="1647" y="-5" width="11" height="10"/><rect class="e" x="1762" y="-5" width="9" height="10"/><rect class="e" x="1789" y="-5" width="9" height="10"/><rect class="e" x="1813" y="-5" width="9" height="10"/><rect class="e" x="1839" y="-5" width="55" height="10"/><rect class="u" x="1894" y="-5" width="43" height="10"/><text class="p" y="-9"><tspan x="1451">2</tspan><tspan x="1491">1</tspan><tspan x="1661">0</tspan><tspan x="1774">0</tspan><tspan x="1801">0</tspan><tspan x="1825">0</tspan></text></g>
<g id="gene41" transform="translate(0,3258.4)"><line class="i" x1="1420" x2="1877"/><rect class="u" x="1420" y="-5" width="11" height="10"/><rect class="e" x="1431" y="-5" width="23" height="10"/><rect class="e" x="1469" y="-5" width="25" height="10"/><rect class="e" x="1605" y="-5" width="9" height="10"/><rect class="e" x="1696" y="-5" width="9" height="10"/><rect class="e" x="1724" y="-5" width="9" height="10"/><rect class="e" x="1748" y="-5" width="9" height="10"/><rect class="e" x="1775" y="-5" width="54" height="10"/><rect class="u" x="1829" y="-5" width="48" height="10"/><text class="p" y="-9"><tspan x="1457">2</tspan><tspan x="1497">1</tspan><tspan x="1617">0</tspan><tspan x="1708">0</tspan><tspan x="1736">0</tspan><tspan x="1760">0</tspan></text></g>
<g id="gene42" transform="translate(0,3338.2)"><line class="i" x1="1420" x2="1978"/><rect class="u" x="1420" y="-5" width="14" height="10"/><rect class="e" x="1434" y="-5" width="21" height="10"/><rect class="e" x="1471" y="-5" width="27" height="10"/><rect class="e" x="1672" y="-5" width="12" height="10"/><rect class="e" x="1799" y="-5" width="9" height="10"/><rect class="e" x="1826" y="-5" width="9" height="10"/><rect class="e" x="1855" y="-5" width="10" height="10"/><rect class="e" x="1881" y="-5" width="53" height="10"/><rect class="u" x="1934" y="-5" width="44" height="10"/><text class="p" y="-9"><tspan x="1458">2</tspan><tspan x="1501">1</tspan><tspan x="1687">0</tspan><tspan x="1811">0</tspan><tspan x="1838">0</tspan><tspan x="1868">0</tspan></text></g>
<g id="gene43" transform="translate(0,3418)"><line class="i" x1="1420" x2="2015"/><rect class="u" x="1420" y="-5" width="10" height="10"/><rect class="e" x="1430" y="-5" width="24" height="10"/><rect class="e" x="1469" y="-5" width="27" height="10"/><rect class="e" x="1719" y="-5" width="11" height="10"/><rect class="e" x="1838" y="-5" width="10" height="10"/><rect class="e" x="1867" y="-5" width="8" height="10"/><rect class="e" x="1895" y="-5" width="9" height="10"/><rect class="e" x="1921" y="-5" width="54" height="10"/><rect class="u" x="1975" y="-5" width="40" height="10"/><text class="p" y="-9"><tspan x="1457">2</tspan><tspan x="1499">1</tspan><tspan x="1733">0</tspan><tspan x="1851">0</tspan><tspan x="1878">0</tspan><tspan x="1907">0</tspan></text></g>
<g id="gene44" transform="translate(0,3497.9)"><line class="i" x1="1420" x2="2046"/><rect class="u" x="1420" y="-5" width="31" height="10"/><rect class="e" x="1451" y="-5" width="11" height="10"/><rect class="e" x="1481" y="-5" width="25" height="10"/><rect class="e" x="1564" y="-5" width="15" height="10"/><rect class="e" x="1610" y="-5" width="11" height="10"/><rect class="e" x="1700" y="-5" width="38" height="10"/><rect class="e" x="1784" y="-5" width="18" height="10"/><rect class="e" x="1843" y="-5" width="15" height="10"/><rect class="u" x="1858" y="-5" width="188" height="10"/><text class="p" y="-9"><tspan x="1462">0</tspan><tspan x="1506">0</tspan><tspan x="1579">1</tspan><tspan x="1621">0</tspan><tspan x="1738">1</tspan><tspan x="1802">0</tspan></text></g>
<g id="gene45" transform="translate(0,3577.7)"><line class="i" x1="1420" x2="2412"/><rect class="u" x="1420" y="-5" width="345" height="10"/><rect class="e" x="1765" y="-5" width="10" height="10"/><rect class="e" x="1791" y="-5" width="23" height="10"/><rect class="e" x="1829" y="-5" width="14" height="10"/><rect class="e" x="1948" y="-5" width="10" height="10"/><rect class="e" x="2012" y="-5" width="38" height="10"/><rect class="e" x="2088" y="-5" width="27" height="10"/><rect class="e" x="2157" y="-5" width="19" height="10"/><rect class="u" x="2176" y="-5" width="236" height="10"/><text class="p" y="-9"><tspan x="1776">0</tspan><tspan x="1814">0</tspan><tspan x="1844">1</tspan><tspan x="1959">0</tspan><tspan x="2051">1</tspan><tspan x="2116">0</tspan></text></g>
<g id="gene46" transform="translate(0,3657.6)"><rect class="e" x="1420" y="-5" width="121" height="10"/></g>
<g id="gene47" transform="translate(0,3737.4)"><line class="i" x1="1420" x2="1562"/><rect class="e" x="1420" y="-5" width="107" height="10"/><rect class="e" x="1539" y="-5" width="23" height="10"/><text class="p" y="-9"><tspan x="1530">2</tspan></text></g>
<g id="gene48" transform="translate(0,3817.3)"><line class="i" x1="1424" x2="1608"/><rect class="e" x="1424" y="-5" width="11" height="10"/><rect class="e" x="1456" y="-5" width="14" height="10"/><rect class="e" x="1493" y="-5" width="98" height="10"/><rect class="u" x="1591" y="-5" width="17" height="10"/><text class="p" y="-9"><tspan x="1435">0</tspan><tspan x="1470">2</tspan></text></g>
<g id="gene49" transform="translate(0,3897.1)"><line class="i" x1="1420" x2="1867"/><rect class="u" x="1420" y="-5" width="37" height="10"/><rect class="e" x="1457" y="-5" width="11" height="10"/><rect class="e" x="1512" y="-5" width="23" height="10"/><rect class="e" x="1561" y="-5" width="27" height="10"/><rect class="e" x="1640" y="-5" width="27" height="10"/><rect class="e" x="1712" y="-5" width="16" height="10"/><rect class="e" x="1777" y="-5" width="14" height="10"/><rect class="e" x="1812" y="-5" width="11" height="10"/><rect class="u" x="1823" y="-5" width="44" height="10"/><text class="p" y="-9"><tspan x="1469">0</tspan><tspan x="1536">0</tspan><tspan x="1589">0</tspan><tspan x="1668">2</tspan><tspan x="1729">0</tspan><tspan x="1792">0</tspan></text></g>
</g>

<g id="exon-alignments" opacity="0.9">
<g transform="translate(0,64.7)"><line class="o" x1="1455" x2="1469" y2="79.8"/></g>
<g transform="translate(0,144.5)"><line class="o" x1="1431" x2="1433" y2="79.8"/><line class="r" x1="1479" x2="1680" y2="79.8"/></g>
<g transform="translate(0,224.4)"><line class="o" x1="1433" x2="1438" y2="79.8"/><line class="r" x1="1683" x2="1492" y2="79.8"/><line class="r" x1="1804" x2="1675" y2="79.8"/><line class="r" x1="1831" x2="1703" y2="79.8"/><line class="r" x1="1985" x2="1750" y2="79.8"/></g>
<g transform="translate(0,304.2)"><line class="o" x1="1438" x2="1451" y2="79.8"/><line class="r" x1="1485" x2="1497" y2="79.8"/><line class="r" x1="1675" x2="1612" y2="79.8"/><line class="r" x1="1705" x2="1645" y2="79.8"/><line class="r" x1="1735" x2="1681" y2="79.8"/><line class="r" x1="1760" x2="1708" y2="79.8"/></g>
<g transform="translate(0,384.1)"><line class="o" x1="1451" x2="1449" y2="79.8"/><line class="r" x1="1497" x2="1492" y2="79.8"/><line class="r" x1="1614" x2="1602" y2="79.8"/><line class="r" x1="1646" x2="1633" y2="79.8"/><line class="r" x1="1681" x2="1668" y2="79.8"/><line class="c" x1="1709" x2="1695" y2="79.8"/></g>
<g transform="translate(0,463.9)"><line class="o" x1="1449" x2="1489" y2="79.8"/><line class="c" x1="1496" x2="1768" y2="79.8"/><line class="c" x1="1602" x2="1800" y2="79.8"/><line class="r" x1="1633" x2="1842" y2="79.8"/><line class="o" x1="1640" x2="1867" y2="79.8"/></g>
<g transform="translate(0,543.7)"><line class="o" x1="1768" x2="1447" y2="79.8"/><line class="o" x1="1842" x2="1527" y2="79.8"/></g>
<g transform="translate(0,623.6)"><line class="o" x1="1447" x2="1502" y2="79.8"/><line class="r" x1="1527" x2="1645" y2="79.8"/><line class="r" x1="1590" x2="1672" y2="79.8"/><line class="r" x1="1619" x2="1698" y2="79.8"/><line class="r" x1="1646" x2="1730" y2="79.8"/><line class="r" x1="1793" x2="1770" y2="79.8"/></g>
<g transform="translate(0,703.4)"><line class="c" x1="1446" x2="1446" y2="79.8"/><line class="r" x1="1507" x2="1510" y2="79.8"/><line class="r" x1="1645" x2="1568" y2="79.8"/><line class="r" x1="1670" x2="1594" y2="79.8"/><line class="r" x1="1697" x2="1623" y2="79.8"/><line class="r" x1="1729" x2="1655" y2="79.8"/><line class="o" x1="1762" x2="1701" y2="79.8"/></g>
<g transform="translate(0,783.3)"><line class="o" x1="1448" x2="1451" y2="79.8"/><line class="o" x1="1512" x2="1520" y2="79.8"/><line class="r" x1="1568" x2="1573" y2="79.8"/><line class="r" x1="1596" x2="1602" y2="79.8"/><line class="r" x1="1624" x2="1628" y2="79.8"/><line class="r" x1="1658" x2="1660" y2="79.8"/><line class="o" x1="1701" x2="1701" y2="79.8"/></g>
<g transform="translate(0,863.1)"><line class="o" x1="1451" x2="1448" y2="79.8"/><line class="r" x1="1520" x2="1520" y2="79.8"/><line class="r" x1="1573" x2="1577" y2="79.8"/><line class="r" x1="1602" x2="1605" y2="79.8"/><line class="r" x1="1628" x2="1630" y2="79.8"/><line class="r" x1="1660" x2="1662" y2="79.8"/><line class="o" x1="1701" x2="1704" y2="79.8"/></g>
<g transform="translate(0,943)"><line class="o" x1="1515" x2="1446" y2="79.8"/><line class="r" x1="1573" x2="1512" y2="79.8"/></g>
<g transform="translate(0,1022.8)"><line class="o" x1="1443" x2="1443" y2="79.8"/><line class="c" x1="1512" x2="1655" y2="79.8"/></g>
<g transform="translate(0,1102.6)"><line class="o" x1="1443" x2="1431" y2="79.8"/><line class="o" x1="1494" x2="1584" y2="79.8"/><line class="r" x1="1576" x2="1619" y2="79.8"/><line class="r" x1="1604" x2="1655" y2="79.8"/><line class="r" x1="1640" x2="1709" y2="79.8"/><line class="o" x1="1686" x2="2079" y2="79.8"/></g>
<g transform="translate(0,1182.5)"><line class="o" x1="1431" x2="1451" y2="79.8"/><line class="o" x1="1585" x2="1502" y2="79.8"/><line class="c" x1="1619" x2="1607" y2="79.8"/><line class="c" x1="1655" x2="1636" y2="79.8"/><line class="r" x1="1709" x2="1688" y2="79.8"/><line class="o" x1="2079" x2="1716" y2="79.8"/></g>
<g transform="translate(0,1262.3)"><line class="o" x1="1451" x2="1452" y2="79.8"/><line class="r" x1="1493" x2="1497" y2="79.8"/><line class="r" x1="1607" x2="1592" y2="79.8"/><line class="r" x1="1636" x2="1617" y2="79.8"/><line class="r" x1="1688" x2="1660" y2="79.8"/><line class="r" x1="1714" x2="1686" y2="79.8"/><line class="o" x1="1790" x2="1757" y2="79.8"/></g>
<g transform="translate(0,1342.1)"><line class="o" x1="1456" x2="1448" y2="79.8"/><line class="r" x1="1497" x2="1484" y2="79.8"/><line class="r" x1="1591" x2="1579" y2="79.8"/><line class="r" x1="1617" x2="1610" y2="79.8"/><line class="r" x1="1660" x2="1637" y2="79.8"/><line class="r" x1="1688" x2="1665" y2="79.8"/><line class="o" x1="1760" x2="1816" y2="79.8"/></g>
<g transform="translate(0,1422)"><line class="o" x1="1448" x2="1443" y2="79.8"/><line class="r" x1="1484" x2="1484" y2="79.8"/><line class="o" x1="1579" x2="1721" y2="79.8"/><line class="c" x1="1614" x2="1823" y2="79.8"/><line class="r" x1="1637" x2="1846" y2="79.8"/><line class="o" x1="1665" x2="1918" y2="79.8"/></g>
<g transform="translate(0,1501.8)"><line class="c" x1="1443" x2="1441" y2="79.8"/><line class="r" x1="1486" x2="1483" y2="79.8"/><line class="r" x1="1720" x2="1717" y2="79.8"/><line class="r" x1="1822" x2="1818" y2="79.8"/><line class="r" x1="1848" x2="1845" y2="79.8"/><line class="o" x1="1943" x2="1941" y2="79.8"/></g>
<g transform="translate(0,1581.7)"><line class="o" x1="1441" x2="1433" y2="79.8"/><line class="r" x1="1482" x2="1474" y2="79.8"/><line class="o" x1="1714" x2="1673" y2="79.8"/><line class="c" x1="1816" x2="1706" y2="79.8"/><line class="r" x1="1841" x2="1732" y2="79.8"/><line class="o" x1="1931" x2="1760" y2="79.8"/></g>
<g transform="translate(0,1661.5)"><line class="o" x1="1433" x2="1438" y2="79.8"/><line class="r" x1="1474" x2="1482" y2="79.8"/><line class="r" x1="1673" x2="1632" y2="79.8"/><line class="r" x1="1706" x2="1772" y2="79.8"/><line class="r" x1="1732" x2="1823" y2="79.8"/><line class="r" x1="1760" x2="1849" y2="79.8"/><line class="o" x1="1803" x2="1933" y2="79.8"/></g>
<g transform="translate(0,1741.4)"><line class="o" x1="1438" x2="1446" y2="79.8"/><line class="r" x1="1482" x2="1484" y2="79.8"/><line class="r" x1="1634" x2="1682" y2="79.8"/><line class="r" x1="1772" x2="1711" y2="79.8"/><line class="r" x1="1823" x2="1753" y2="79.8"/><line class="r" x1="1850" x2="1779" y2="79.8"/><line class="o" x1="1933" x2="1846" y2="79.8"/></g>
<g transform="translate(0,1821.2)"><line class="o" x1="1446" x2="1461" y2="79.8"/><line class="r" x1="1682" x2="1505" y2="79.8"/><line class="r" x1="1711" x2="1534" y2="79.8"/><line class="r" x1="1753" x2="1562" y2="79.8"/><line class="r" x1="1779" x2="1591" y2="79.8"/><line class="o" x1="1846" x2="1737" y2="79.8"/></g>
<g transform="translate(0,1901)"><line class="o" x1="1461" x2="1489" y2="79.8"/></g>
<g transform="translate(0,1980.9)"><line class="o" x1="1451" x2="1461" y2="79.8"/><line class="r" x1="1492" x2="1507" y2="79.8"/><line class="r" x1="1518" x2="1780" y2="79.8"/><line class="r" x1="1541" x2="1813" y2="79.8"/><line class="r" x1="1566" x2="1844" y2="79.8"/><line class="r" x1="1696" x2="1936" y2="79.8"/></g>
<g transform="translate(0,2060.7)"><line class="o" x1="1461" x2="1433" y2="79.8"/><line class="r" x1="1507" x2="1471" y2="79.8"/><line class="r" x1="1780" x2="1658" y2="79.8"/><line class="r" x1="1813" x2="1688" y2="79.8"/><line class="r" x1="1844" x2="1719" y2="79.8"/><line class="r" x1="1936" x2="1747" y2="79.8"/></g>
<g transform="translate(0,2140.6)"><line class="o" x1="1433" x2="1446" y2="79.8"/><line class="r" x1="1471" x2="1510" y2="79.8"/></g>
<g transform="translate(0,2220.4)"><line class="o" x1="1446" x2="1431" y2="79.8"/><line class="r" x1="1510" x2="1477" y2="79.8"/></g>
<g transform="translate(0,2300.3)"><line class="o" x1="1431" x2="1451" y2="79.8"/><line class="o" x1="1525" x2="1505" y2="79.8"/></g>
<g transform="translate(0,2380.1)"><line class="o" x1="1441" x2="1443" y2="79.8"/><line class="o" x1="1510" x2="1494" y2="79.8"/><line class="c" x1="1798" x2="1568" y2="79.8"/><line class="r" x1="1831" x2="1660" y2="79.8"/><line class="r" x1="1874" x2="1686" y2="79.8"/><line class="o" x1="1897" x2="1711" y2="79.8"/></g>
<g transform="translate(0,2459.9)"><line class="o" x1="1443" x2="1448" y2="79.8"/><line class="r" x1="1568" x2="1658" y2="79.8"/><line class="r" x1="1658" x2="1943" y2="79.8"/><line class="r" x1="1663" x2="1979" y2="79.8"/><line class="r" x1="1686" x2="1983" y2="79.8"/><line class="r" x1="1711" x2="2007" y2="79.8"/></g>
<g transform="translate(0,2539.8)"><line class="o" x1="1448" x2="1448" y2="79.8"/><line class="r" x1="1660" x2="1933" y2="79.8"/><line class="r" x1="1943" x2="1970" y2="79.8"/><line class="r" x1="1979" x2="1998" y2="79.8"/><line class="r" x1="2007" x2="2053" y2="79.8"/></g>
<g transform="translate(0,2619.6)"><line class="o" x1="1448" x2="1446" y2="79.8"/><line class="r" x1="1938" x2="1490" y2="79.8"/><line class="r" x1="1942" x2="1611" y2="79.8"/><line class="r" x1="1975" x2="1651" y2="79.8"/><line class="r" x1="2003" x2="1687" y2="79.8"/><line class="r" x1="2035" x2="1720" y2="79.8"/></g>
<g transform="translate(0,2699.5)"><line class="o" x1="1443" x2="1441" y2="79.8"/><line class="r" x1="1489" x2="1510" y2="79.8"/><line class="r" x1="1610" x2="1841" y2="79.8"/><line class="r" x1="1650" x2="1868" y2="79.8"/><line class="r" x1="1686" x2="1897" y2="79.8"/><line class="c" x1="1721" x2="1926" y2="79.8"/></g>
<g transform="translate(0,2779.3)"><line class="c" x1="1441" x2="1441" y2="79.8"/><line class="r" x1="1507" x2="1487" y2="79.8"/><line class="r" x1="1841" x2="1617" y2="79.8"/></g>
<g transform="translate(0,2859.1)"><line class="o" x1="1441" x2="1438" y2="79.8"/><line class="r" x1="1484" x2="1482" y2="79.8"/><line class="o" x1="1617" x2="1630" y2="79.8"/></g>
<g transform="translate(0,2939)"><line class="o" x1="1438" x2="1438" y2="79.8"/><line class="r" x1="1482" x2="1482" y2="79.8"/><line class="r" x1="1630" x2="1630" y2="79.8"/><line class="r" x1="1729" x2="1729" y2="79.8"/><line class="r" x1="1757" x2="1757" y2="79.8"/><line class="r" x1="1782" x2="1782" y2="79.8"/><line class="o" x1="1829" x2="1829" y2="79.8"/></g>
<g transform="translate(0,3018.8)"><line class="o" x1="1438" x2="1448" y2="79.8"/><line class="r" x1="1482" x2="1489" y2="79.8"/><line class="r" x1="1630" x2="1635" y2="79.8"/><line class="r" x1="1729" x2="1800" y2="79.8"/><line class="r" x1="1757" x2="1826" y2="79.8"/><line class="r" x1="1782" x2="1852" y2="79.8"/><line class="o" x1="1834" x2="1892" y2="79.8"/></g>
<g transform="translate(0,3098.7)"><line class="o" x1="1448" x2="1436" y2="79.8"/><line class="o" x1="1800" x2="1449" y2="79.8"/><line class="o" x1="1826" x2="1474" y2="79.8"/><line class="o" x1="1831" x2="1484" y2="79.8"/><line class="o" x1="1880" x2="1660" y2="79.8"/></g>
<g transform="translate(0,3178.5)"><line class="o" x1="1436" x2="1441" y2="79.8"/><line class="r" x1="1477" x2="1482" y2="79.8"/><line class="r" x1="1653" x2="1612" y2="79.8"/><line class="r" x1="1766" x2="1701" y2="79.8"/><line class="r" x1="1793" x2="1729" y2="79.8"/><line class="r" x1="1817" x2="1752" y2="79.8"/><line class="o" x1="1862" x2="1806" y2="79.8"/></g>
<g transform="translate(0,3258.4)"><line class="c" x1="1441" x2="1441" y2="79.8"/><line class="r" x1="1482" x2="1481" y2="79.8"/><line class="r" x1="1610" x2="1677" y2="79.8"/><line class="r" x1="1701" x2="1802" y2="79.8"/><line class="r" x1="1729" x2="1829" y2="79.8"/><line class="r" x1="1752" x2="1860" y2="79.8"/><line class="o" x1="1800" x2="1900" y2="79.8"/></g>
<g transform="translate(0,3338.2)"><line class="o" x1="1441" x2="1441" y2="79.8"/><line class="r" x1="1481" x2="1481" y2="79.8"/><line class="r" x1="1677" x2="1725" y2="79.8"/><line class="r" x1="1802" x2="1843" y2="79.8"/><line class="r" x1="1829" x2="1870" y2="79.8"/><line class="r" x1="1860" x2="1900" y2="79.8"/><line class="o" x1="1900" x2="1944" y2="79.8"/></g>
<g transform="translate(0,3418)"><line class="o" x1="1725" x2="1457" y2="79.8"/></g>
<g transform="translate(0,3497.9)"><line class="o" x1="1457" x2="1770" y2="79.8"/><line class="o" x1="1483" x2="1789" y2="79.8"/><line class="o" x1="1495" x2="1800" y2="79.8"/></g>
<g transform="translate(0,3577.7)"><line class="o" x1="1768" x2="1495" y2="79.8"/></g>
<g transform="translate(0,3657.6)"><line class="o" x1="1480" x2="1474" y2="79.8"/></g>
<g transform="translate(0,3817.3)"><line class="o" x1="1430" x2="1515" y2="79.8"/><line class="o" x1="1464" x2="1562" y2="79.8"/><line class="r" x1="1545" x2="1643" y2="79.8"/></g>
</g>

<g id="legend">
<rect class="e" x="2681" y="97" width="73" height="41"/>
<text class="lg" x="2817" y="152">exon</text>
<rect class="u" x="2681" y="196" width="73" height="40"/>
<text class="lg" x="2817" y="255">UTR</text>
<rect x="2681" y="322" width="73" height="10" fill="#c9c9c9"/>
<text class="lg" x="2817" y="360">intron</text>
<text class="lg" x="2669" y="472">0 1 2</text>
<text class="lg" x="2845" y="464">intron phase</text>
<line x1="2524" y1="601" x2="2648" y2="601" stroke="#ee5a6a" stroke-width="5"/>
<text class="lg" x="2676" y="614">exact matches betweeen exons</text>
<line x1="2524" y1="758" x2="2648" y2="758" stroke="#3fdceb" stroke-width="5"/>
<text class="lg" x="2676" y="711">nearly exact match (length difference</text>
<text class="lg" x="2676" y="780">&lt;= 12) and the two aligned exons</text>
<text class="lg" x="2676" y="848">share the same frame</text>
<line x1="2524" y1="944" x2="2648" y2="944" stroke="#3fdceb" stroke-width="4" stroke-dasharray="8 5"/>
<text class="lg" x="2676" y="933">nearly exact match (length difference</text>
<text class="lg" x="2676" y="1001">&lt;= 12)</text>
<line x1="2524" y1="1097" x2="2648" y2="1097" stroke="#a9a34f" stroke-width="5"/>
<text class="lg" x="2676" y="1071">mismatch and the two aligned exons</text>
<text class="lg" x="2676" y="1139">share the same frame</text>
<line x1="2524" y1="1219" x2="2648" y2="1219" stroke="#a9a34f" stroke-width="4" stroke-dasharray="8 5"/>
<text class="lg" x="2676" y="1228">mismatch</text>
<rect x="2268" y="445" width="6" height="6" fill="#e02020"/>
</g>
</svg>
